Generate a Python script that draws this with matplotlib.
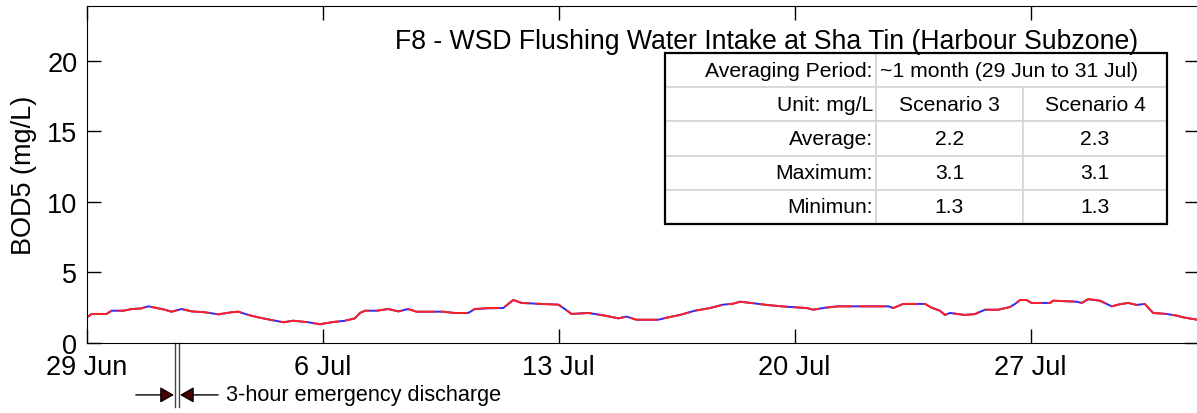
import matplotlib
matplotlib.use('Agg')
import matplotlib.pyplot as plt
from matplotlib.patches import FancyArrowPatch, Rectangle
import matplotlib.transforms as mtransforms

plt.rcParams['font.family'] = ['Liberation Sans', 'DejaVu Sans']

# time in days from 29 Jun 00:00
days = [0.0, 0.14, 0.58, 0.73, 1.08, 1.33, 1.6, 1.82, 2.07, 2.31, 2.51, 2.81, 3.11, 3.5,
        3.9, 4.29, 4.49, 4.79, 5.08, 5.43, 5.83, 6.12, 6.57, 6.91, 7.31, 7.66, 7.95, 8.1,
        8.25, 8.6, 8.94, 9.24, 9.53, 9.78, 10.57, 10.9, 11.31, 11.51, 11.91, 12.35, 12.65,
        12.9, 13.49, 13.99, 14.18, 14.38, 14.88, 15.37, 15.77, 16.01, 16.31, 16.95, 17.25,
        17.6, 18.04, 18.49, 18.88, 19.18, 19.38, 19.77, 20.17, 20.71, 21.36, 21.55, 21.9,
        22.29, 23.78, 23.93, 24.22, 24.87, 25.07, 25.31, 25.46, 25.61, 26.05, 26.35, 26.65,
        27.04, 27.39, 27.54, 27.69, 27.88, 28.03, 28.58, 28.67, 29.37, 29.52, 29.71, 30.06,
        30.41, 30.65, 30.9, 31.15, 31.39, 31.64, 32.04, 32.34, 32.53, 32.95]

# BOD5 (mg/L), scenario 3
bod_s3 = [1.82, 2.06, 2.06, 2.29, 2.29, 2.41, 2.45, 2.6, 2.48, 2.36, 2.22, 2.41, 2.24, 2.18,
          2.03, 2.18, 2.22, 1.99, 1.82, 1.65, 1.47, 1.58, 1.47, 1.33, 1.49, 1.58, 1.75, 2.13,
          2.29, 2.29, 2.41, 2.24, 2.41, 2.22, 2.22, 2.13, 2.13, 2.41, 2.46, 2.48, 3.05,
          2.84, 2.77, 2.72, 2.41, 2.06, 2.13, 1.94, 1.75, 1.87, 1.65, 1.65, 1.82,
          1.99, 2.29, 2.48, 2.72, 2.79, 2.93, 2.82, 2.7, 2.58, 2.48, 2.36, 2.5,
          2.6, 2.6, 2.48, 2.77, 2.77, 2.5, 2.29, 1.99, 2.13, 1.99, 2.05, 2.36,
          2.36, 2.55, 2.77, 3.05, 3.05, 2.84, 2.84, 3.0, 2.93, 2.84, 3.1, 3.0,
          2.6, 2.75, 2.84, 2.7, 2.77, 2.13, 2.06, 1.94, 1.82, 1.65]

# BOD5 (mg/L), scenario 4
bod_s4 = [1.82, 2.06, 2.06, 2.29, 2.29, 2.41, 2.45, 2.6, 2.48, 2.36, 2.22, 2.41, 2.24, 2.18,
          2.03, 2.18, 2.22, 1.99, 1.82, 1.65, 1.47, 1.58, 1.47, 1.33, 1.49, 1.58, 1.75, 2.13,
          2.29, 2.29, 2.41, 2.24, 2.41, 2.22, 2.22, 2.13, 2.13, 2.41, 2.48, 2.48, 3.05,
          2.84, 2.77, 2.72, 2.41, 2.06, 2.13, 1.94, 1.75, 1.87, 1.65, 1.65, 1.82,
          1.99, 2.29, 2.48, 2.72, 2.79, 2.93, 2.82, 2.7, 2.58, 2.48, 2.36, 2.5,
          2.6, 2.6, 2.48, 2.77, 2.77, 2.5, 2.29, 1.99, 2.13, 1.99, 2.05, 2.36,
          2.36, 2.55, 2.77, 3.05, 3.05, 2.84, 2.84, 3.0, 2.93, 2.84, 3.12, 3.0,
          2.6, 2.75, 2.84, 2.7, 2.77, 2.13, 2.06, 1.94, 1.82, 1.65]

tick_days = [0, 7, 14, 21, 28]
tick_labels = ['29 Jun', '6 Jul', '13 Jul', '20 Jul', '27 Jul']

# 3-hour emergency discharge, 1 Jul 15:00-18:00
discharge = [2.62, 2.72]

table_rows = [['Averaging Period:', '~1 month (29 Jun to 31 Jul)', ''],
              ['Unit: mg/L', 'Scenario 3', 'Scenario 4'],
              ['Average:', '2.2', '2.3'],
              ['Maximum:', '3.1', '3.1'],
              ['Minimun:', '1.3', '1.3']]

fig = plt.figure(figsize=(11.97, 4.14), dpi=100)
ax = fig.add_axes([87 / 1197, 70 / 414, 1112 / 1197, 337 / 414])

ax.plot(days, bod_s3, color='#2a2aff', lw=1.4)
ax.plot(days, bod_s4, color='#ff2020', lw=1.4, dashes=(14, 3))

ax.set_xlim(0, 33)
ax.set_ylim(0, 23.9)
ax.set_xticks(tick_days)
ax.set_xticklabels(tick_labels)
ax.set_yticks([0, 5, 10, 15, 20])
ax.tick_params(direction='in', length=10, width=1, labelsize=19.5,
               top=True, right=True)
ax.tick_params(axis='x', pad=8)
ax.tick_params(axis='y', pad=7)
ax.set_ylabel('BOD5 (mg/L)', fontsize=19.5)
ax.yaxis.set_label_coords(-0.045, 0.5)

fig.text(767 / 1197, 1 - 42 / 414,
         'F8 - WSD Flushing Water Intake at Sha Tin (Harbour Subzone)',
         fontsize=19.2, ha='center', va='center')

# summary table
tab = ax.table(cellText=table_rows, colWidths=[0.4203, 0.2928, 0.2869],
               bbox=[0.5198, 0.3531, 0.4514, 0.5074], zorder=5)
tab.auto_set_font_size(False)
tab.set_fontsize(15.2)
for (r, c), cell in tab.get_celld().items():
    cell.set_edgecolor('#d4d4d4')
    cell.set_linewidth(1.2)
    cell.PAD = 0.015
    if c == 0:
        cell.get_text().set_ha('right')
    else:
        cell.get_text().set_ha('center')
tab[0, 1].get_text().set_ha('left')
tab[0, 1].PAD = 0.03
tab[0, 1].visible_edges = 'BTL'
tab[0, 2].visible_edges = 'BTR'
tab[0, 2].set_facecolor('none')
ax.add_patch(Rectangle((0.5198, 0.3531), 0.4514, 0.5074, transform=ax.transAxes,
                       fill=False, edgecolor='black', lw=1.6, zorder=6))

# emergency discharge marker below the time axis
trans = mtransforms.blended_transform_factory(ax.transData, ax.transAxes)
for xd in discharge:
    ax.plot([xd, xd], [0, -0.19], transform=trans, color='#444444', lw=1,
            clip_on=False)
arrow_y = -0.154
for tail, tip in [(1.45, 2.58), (3.89, 2.76)]:
    ax.add_patch(FancyArrowPatch((tail, arrow_y), (tip, arrow_y), transform=trans,
                                 arrowstyle='-|>,head_length=0.42,head_width=0.24',
                                 mutation_scale=20, facecolor='#4a0000',
                                 edgecolor='black', lw=1, shrinkA=0, shrinkB=0,
                                 clip_on=False))
ax.text(4.12, arrow_y, '3-hour emergency discharge', transform=trans,
        fontsize=15.6, ha='left', va='center')

plt.savefig('out.png', dpi=100)
